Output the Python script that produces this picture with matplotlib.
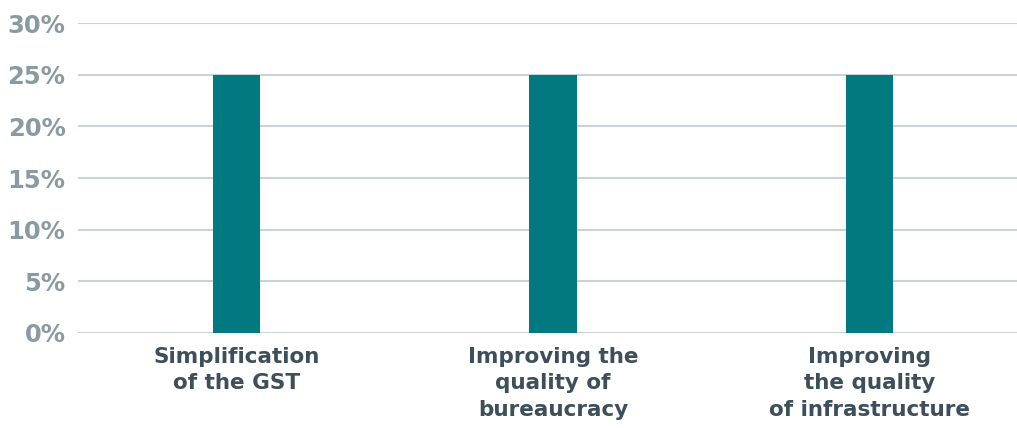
import matplotlib.pyplot as plt
import numpy as np

plt.rcParams['font.family'] = ['DejaVu Sans']

categories = ['Simplification\nof the GST', 'Improving the\nquality of\nbureaucracy',
              'Improving\nthe quality\nof infrastructure']
values = [25, 25, 25]
yticks = [0, 5, 10, 15, 20, 25, 30]

fig = plt.figure(figsize=(10.17, 4.28), dpi=100)
ax = fig.add_axes([0.0767, 0.222, 0.9233, 0.724])

x = np.arange(len(categories))
ax.bar(x, values, width=0.15, color='#007a80', zorder=3)

ax.set_ylim(0, 30)
ax.set_xlim(-0.5, 2.465)
ax.set_yticks(yticks)
ax.set_yticklabels([f'{v}%' for v in yticks], fontsize=17.5, fontweight='bold', color='#8a9aa3')
ax.set_xticks(x)
ax.set_xticklabels(categories, fontsize=15.5, fontweight='bold', color='#3d4f5a', linespacing=1.4)
ax.tick_params(axis='both', length=0)
ax.tick_params(axis='y', pad=9)
ax.tick_params(axis='x', pad=10)
ax.grid(axis='y', color='#c8d3d9', linewidth=1.5, zorder=0)
for s in ax.spines.values():
    s.set_visible(False)

fig.savefig('out.png', dpi=100)
